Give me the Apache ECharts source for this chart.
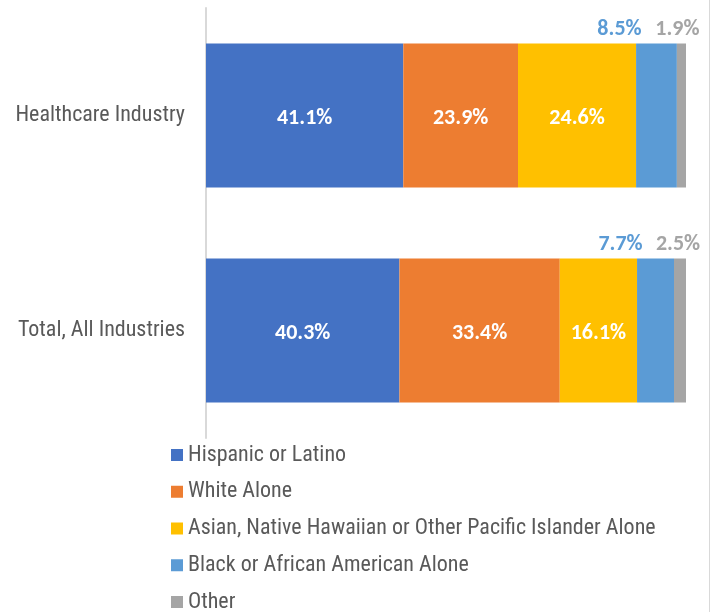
<!DOCTYPE html>
<html><head><meta charset="utf-8">
<script src="https://cdn.jsdelivr.net/npm/echarts@6/dist/echarts.min.js"></script>
<style>html,body{margin:0;padding:0;background:#fff}#c{width:711px;height:612px}</style>
</head><body><div id="c"></div>
<script>
const categories = ['Healthcare Industry', 'Total, All Industries'];
const seriesNames = ['Hispanic or Latino', 'White Alone', 'Asian, Native Hawaiian or Other Pacific Islander Alone', 'Black or African American Alone', 'Other'];
const hispanic = [41.1, 40.3];
const white = [23.9, 33.4];
const asian = [24.6, 16.1];
const black = [8.5, 7.7];
const other = [1.9, 2.5];
const colors = ['#4472C4', '#ED7D31', '#FFC000', '#5B9BD5', '#A5A5A5'];

const labelFont = 'Carlito, Lato, "Open Sans", sans-serif';
const narrow = '"Liberation Sans Narrow", "Arial Narrow", "Roboto Condensed", sans-serif';

const chart = echarts.init(document.getElementById('c'));
const allVals = [hispanic, white, asian, black, other];
const series = allVals.map((vals, i) => {
  const outside = i >= 3;
  const offs = i === 3 ? [[-37, 0], [-35, 0]] : [[-4, 0], [-2, 0]];
  return {
    name: seriesNames[i],
    type: 'bar',
    stack: 'total',
    barWidth: 144,
    itemStyle: { color: colors[i] },
    data: vals.map((v, k) => outside ? {
      value: v,
      label: { show: true, position: 'top', distance: 3, offset: offs[k], color: colors[i] }
    } : { value: v }),
    label: {
      show: true,
      position: outside ? 'top' : 'inside',
      offset: outside ? [0, 0] : [0, 3],
      formatter: p => p.value.toFixed(1) + '%',
      color: outside ? colors[i] : '#fff',
      fontFamily: labelFont,
      fontWeight: 'bold',
      fontSize: 22
    },
    emphasis: { disabled: true }
  };
});

chart.setOption({
  animation: false,
  grid: { left: 206, right: 25, top: 8, bottom: 174, containLabel: false },
  xAxis: { type: 'value', min: 0, max: 100, show: false },
  yAxis: {
    type: 'category', data: categories, inverse: true,
    axisLine: { show: true, lineStyle: { color: '#D9D9D9', width: 2 } },
    axisTick: { show: false },
    axisLabel: { color: '#595959', fontSize: 22, fontFamily: narrow, margin: 21, padding: [4, 0, 0, 0] }
  },
  legend: {
    orient: 'vertical', left: 171, top: 444, height: 200, padding: 0,
    itemWidth: 12, itemHeight: 12, itemGap: 14.75,
    icon: 'rect',
    textStyle: { color: '#595959', fontSize: 22, fontFamily: narrow, lineHeight: 22 },
    data: seriesNames
  },
  graphic: [{
    type: 'line', shape: { x1: 709.5, y1: 0, x2: 709.5, y2: 612 },
    style: { stroke: '#D9D9D9', lineWidth: 1 }
  }],
  series: series
});
</script></body></html>
